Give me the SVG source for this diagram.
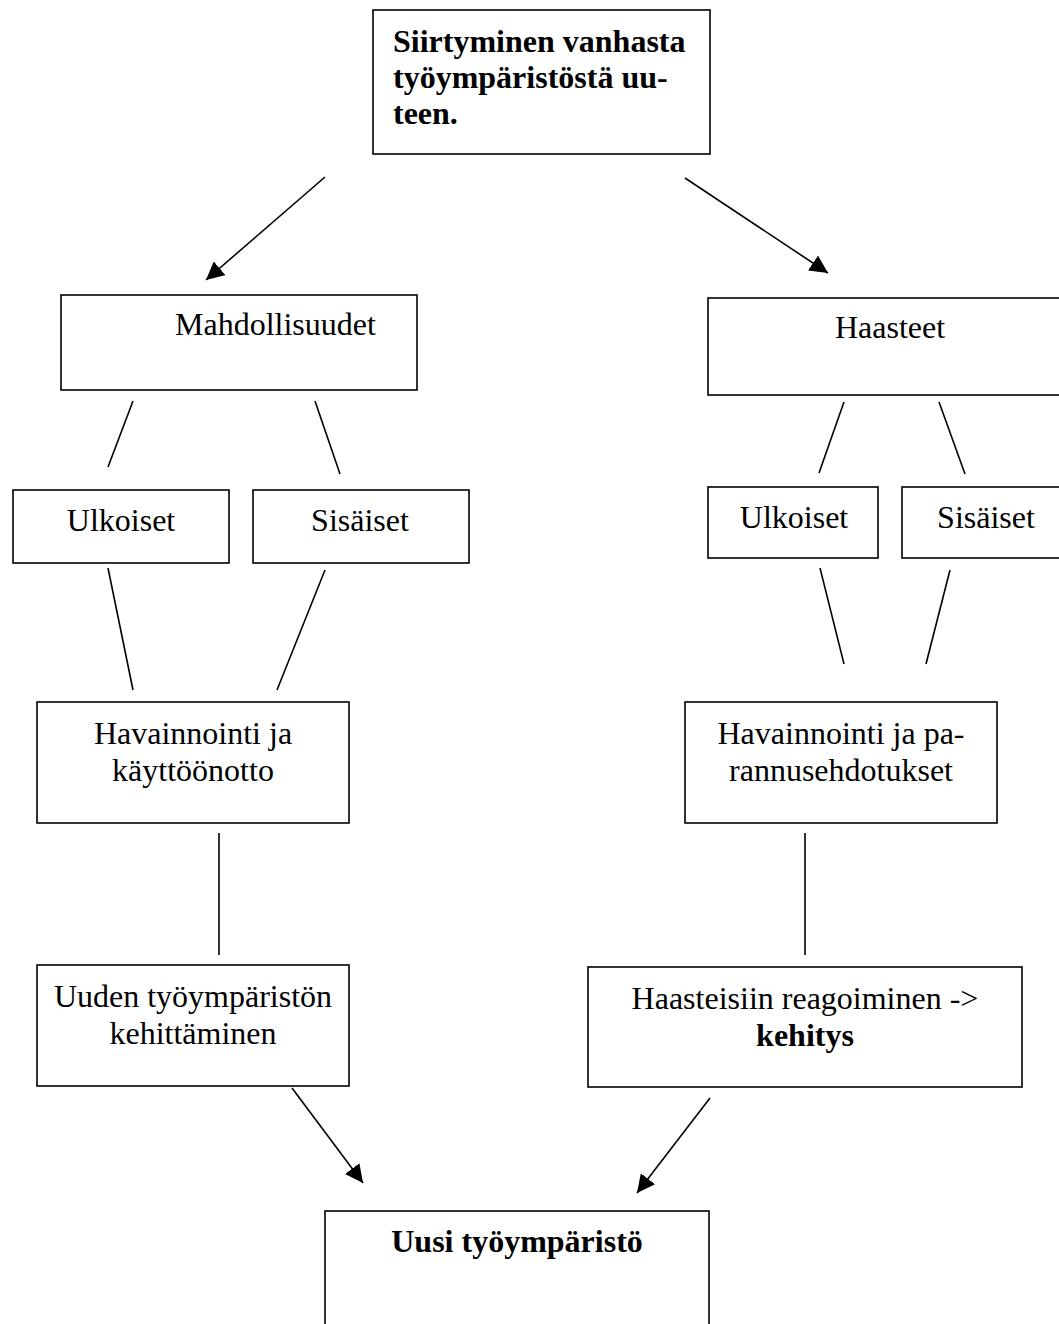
<svg xmlns="http://www.w3.org/2000/svg" width="1059" height="1324" viewBox="0 0 1059 1324">
<style>
.box{fill:#fff;stroke:#000;stroke-width:1.6}
.t{font-family:"Liberation Serif","Times New Roman",serif;font-size:32px;fill:#000}
.c{text-anchor:middle}
.b{font-weight:bold}
.ln{stroke:#000;stroke-width:1.6;fill:none}
</style>
<defs>
<marker id="ah" viewBox="0 0 10 10" refX="10" refY="5" markerWidth="18" markerHeight="18" markerUnits="userSpaceOnUse" orient="auto">
<path d="M0,0 L10,5 L0,10 z" fill="#000"/>
</marker>
</defs>
<rect width="1059" height="1324" fill="#fff"/>
<g id="connectors">
<line class="ln" x1="325" y1="177" x2="206" y2="280" marker-end="url(#ah)"/>
<line class="ln" x1="685" y1="178" x2="828" y2="273" marker-end="url(#ah)"/>
<line class="ln" x1="133" y1="401" x2="108" y2="467"/>
<line class="ln" x1="315" y1="401" x2="340" y2="474"/>
<line class="ln" x1="844" y1="402" x2="819" y2="473"/>
<line class="ln" x1="939" y1="402" x2="965" y2="474"/>
<line class="ln" x1="108" y1="568" x2="133" y2="690"/>
<line class="ln" x1="325" y1="570" x2="277" y2="690"/>
<line class="ln" x1="820" y1="568" x2="844" y2="664"/>
<line class="ln" x1="950" y1="570" x2="926" y2="664"/>
<line class="ln" x1="219" y1="833" x2="219" y2="955"/>
<line class="ln" x1="805" y1="833" x2="805" y2="955"/>
<line class="ln" x1="292" y1="1088" x2="363" y2="1183" marker-end="url(#ah)"/>
<line class="ln" x1="710" y1="1098" x2="637" y2="1193" marker-end="url(#ah)"/>
</g>
<g id="n-top">
<rect class="box" x="373" y="10" width="337" height="144"/>
<text class="t b" x="393" y="52">Siirtyminen vanhasta</text>
<text class="t b" x="393" y="88">työympäristöstä uu-</text>
<text class="t b" x="393" y="124">teen.</text>
</g>
<g id="n-mahd">
<rect class="box" x="61" y="295" width="356" height="95"/>
<text class="t" x="175" y="335">Mahdollisuudet</text>
</g>
<g id="n-haasteet">
<rect class="box" x="708" y="298" width="360" height="97"/>
<text class="t c" x="890" y="338">Haasteet</text>
</g>
<g id="n-ulk-l">
<rect class="box" x="13" y="490" width="216" height="73"/>
<text class="t c" x="121" y="531">Ulkoiset</text>
</g>
<g id="n-sis-l">
<rect class="box" x="253" y="490" width="216" height="73"/>
<text class="t c" x="360" y="531">Sisäiset</text>
</g>
<g id="n-ulk-r">
<rect class="box" x="708" y="487" width="170" height="71"/>
<text class="t c" x="794" y="528">Ulkoiset</text>
</g>
<g id="n-sis-r">
<rect class="box" x="902" y="487" width="170" height="71"/>
<text class="t c" x="986" y="528">Sisäiset</text>
</g>
<g id="n-hav-l">
<rect class="box" x="37" y="702" width="312" height="121"/>
<text class="t c" x="193" y="744">Havainnointi ja</text>
<text class="t c" x="193" y="781">käyttöönotto</text>
</g>
<g id="n-hav-r">
<rect class="box" x="685" y="702" width="312" height="121"/>
<text class="t c" x="841" y="744">Havainnointi ja pa-</text>
<text class="t c" x="841" y="781">rannusehdotukset</text>
</g>
<g id="n-uuden">
<rect class="box" x="37" y="965" width="312" height="121"/>
<text class="t c" x="193" y="1007">Uuden työympäristön</text>
<text class="t c" x="193" y="1044">kehittäminen</text>
</g>
<g id="n-reag">
<rect class="box" x="588" y="967" width="434" height="120"/>
<text class="t c" x="805" y="1009">Haasteisiin reagoiminen -&gt;</text>
<text class="t c b" x="805" y="1046">kehitys</text>
</g>
<g id="n-uusi">
<rect class="box" x="325" y="1211" width="384" height="130"/>
<text class="t c b" x="517" y="1252">Uusi työympäristö</text>
</g>
</svg>
